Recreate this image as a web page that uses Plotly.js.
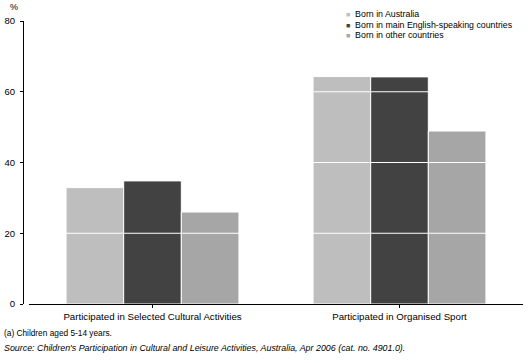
<!DOCTYPE html>
<html>
<head>
<meta charset="utf-8">
<script src="https://cdn.plot.ly/plotly-3.0.1.min.js"></script>
<style>
html,body{margin:0;padding:0;background:#fff;}
#chart{width:529px;height:363px;}
</style>
</head>
<body>
<div id="chart"></div>
<script>
var categories = ["Participated in Selected Cultural Activities", "Participated in Organised Sport"];
var seriesNames = ["Born in Australia", "Born in main English-speaking countries", "Born in other countries"];
var bornAustralia = [32.9, 64.3];
var bornMainEnglish = [34.8, 64.2];
var bornOther = [26.0, 48.9];
var seriesColors = ["#BEBEBE", "#424242", "#A6A6A6"];
var yTicks = [0, 20, 40, 60, 80];
var footnote = "(a) Children aged 5-14 years.";
var source = "<i>Source: Children's Participation in Cultural and Leisure Activities, Australia, Apr 2006 (cat. no. 4901.0).</i>";

var FONT = "Arial, 'Liberation Sans', sans-serif";
var values = [bornAustralia, bornMainEnglish, bornOther];

var traces = values.map(function (v, i) {
  return {
    type: "bar",
    x: categories,
    y: v,
    name: seriesNames[i],
    marker: { color: seriesColors[i], line: { color: "#ffffff", width: 1 } },
    showlegend: false,
    hoverinfo: "none"
  };
});

var shapes = yTicks.filter(function (t) { return t > 0 && t < 80; }).map(function (t) {
  return {
    type: "line", xref: "paper", yref: "y",
    x0: 0.012, x1: 1, y0: t, y1: t,
    line: { color: "#ffffff", width: 1 },
    layer: "above"
  };
});

var annotations = [
  { text: "%", xref: "paper", yref: "paper", x: -0.018, y: 1, xanchor: "center", yanchor: "middle",
    yshift: 14, showarrow: false, font: { family: FONT, size: 9, color: "#000" } },
  { text: footnote, xref: "paper", yref: "paper", x: -0.042, y: 0, xanchor: "left", yanchor: "middle",
    yshift: -29, showarrow: false, font: { family: FONT, size: 8.3, color: "#000" } },
  { text: source, xref: "paper", yref: "paper", x: -0.042, y: 0, xanchor: "left", yanchor: "middle",
    yshift: -44, showarrow: false, font: { family: FONT, size: 8.9, color: "#000" } }
];

seriesNames.forEach(function (n, i) {
  annotations.push({
    text: '<span style="color:' + seriesColors[i] + ';font-size:7px">\u25A0</span>  ' + n,
    xref: "paper", yref: "paper", x: 0.642, y: 1, xanchor: "left", yanchor: "middle",
    yshift: 7 - i * 10.7, showarrow: false, align: "left",
    font: { family: FONT, size: 8.8, color: "#000" }
  });
});

var layout = {
  width: 529, height: 363,
  margin: { l: 23, r: 6, t: 21, b: 59, pad: 0 },
  paper_bgcolor: "#ffffff", plot_bgcolor: "#ffffff",
  barmode: "group", bargap: 0.3, bargroupgap: 0,
  showlegend: false,
  xaxis: {
    domain: [0.012, 1],
    type: "category",
    range: [-0.5, 1.5],
    showline: true, linecolor: "#000", linewidth: 1,
    ticks: "outside", ticklen: 3, tickcolor: "#000",
    showgrid: false, zeroline: false,
    tickfont: { family: FONT, size: 9.7, color: "#000" },
    fixedrange: true
  },
  yaxis: {
    anchor: "free", position: 0,
    range: [0, 80],
    tickvals: yTicks,
    ticktext: yTicks.map(String),
    showline: true, linecolor: "#000", linewidth: 1,
    ticks: "outside", ticklen: 3, tickcolor: "#000",
    ticklabelstandoff: 3,
    showgrid: false, zeroline: false,
    tickfont: { family: FONT, size: 9.5, color: "#000" },
    fixedrange: true
  },
  shapes: shapes,
  annotations: annotations
};

Plotly.newPlot("chart", traces, layout, { displayModeBar: false, staticPlot: true });
</script>
</body>
</html>
